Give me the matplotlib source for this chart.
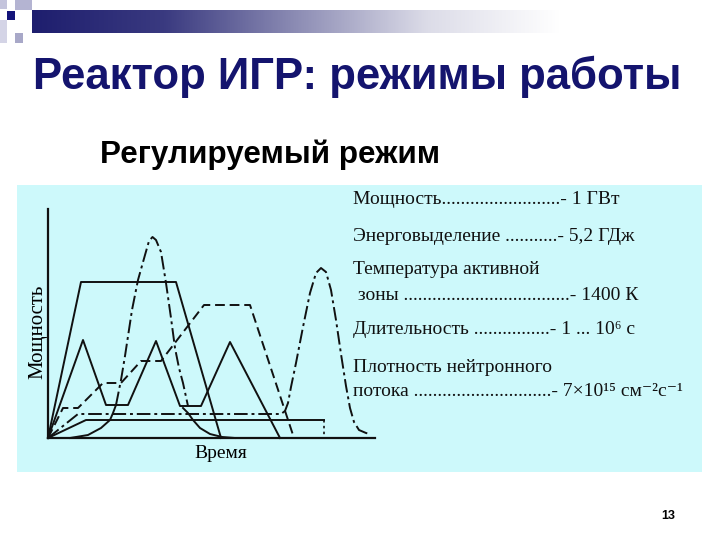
import matplotlib
matplotlib.use('Agg')
import matplotlib.pyplot as plt
import numpy as np
from matplotlib.patches import Rectangle

# --- data (time / power, arbitrary units) ---
# tall trapezoid, solid
trap_t = [0, 33, 128, 173]
trap_p = [0, 156, 156, 0]
# three triangles, solid
tri_t = [0, 35, 58, 80, 108, 132, 153, 182, 232]
tri_p = [0, 98, 33, 33, 97, 32, 32, 96, 0]
# stepped dashed curve
step_t = [0, 15, 30, 55, 73, 93, 113, 156, 202, 246]
step_p = [0, 30, 30, 55, 55, 77, 77, 133, 133, 0]
# low flat solid level
flat_t = [0, 38, 276]
flat_p = [0, 18, 18]
drop_t = [276, 276]
drop_p = [18, 0]
# dash-dot flat level ending in a pulse
late_t = [0, 30, 233, 237, 240, 243, 248, 255, 262, 268, 273, 278, 283,
          288, 293, 298, 302, 306, 311, 318, 322]
late_p = [0, 24, 24, 27, 35, 51, 75, 111, 145, 165, 170, 166, 148,
          118, 84, 52, 30, 16, 8, 5, 4]
# first pulse: solid rise, dash-dot peak, solid decay
rise_t = [22, 40, 53, 62, 65, 68]
rise_p = [0, 3, 10, 18, 25, 33]
peak_t = [68, 73, 77, 84, 90, 97, 101, 104.5, 108, 113, 118, 123, 127,
          131, 135, 140]
peak_p = [33, 58, 82, 128, 158, 183, 197, 201, 198, 186, 155, 120, 90,
          70, 55, 32]
decay_t = [135, 140, 145, 152, 162, 174, 187]
decay_p = [30, 25, 18, 10, 4, 1, 0]

# right-hand parameter list: (text, y pixel)
info_lines = [
    ('Мощность' + '.' * 25 + '- 1 ГВт', 200),
    ('Энерговыделение ' + '.' * 11 + '- 5,2 ГДж', 236),
    ('Температура активной', 270),
    (' зоны ' + '.' * 35 + '- 1400 К', 295),
    ('Длительность ' + '.' * 16 + '- 1 ... 10⁶ с', 330),
    ('Плотность нейтронного', 367),
    ('потока ' + '.' * 29 + '- 7×10¹⁵ см⁻²с⁻¹', 392),
]

W, H = 720, 540
fig = plt.figure(figsize=(7.2, 5.4), dpi=100)
fig.patch.set_facecolor('white')

# background / decoration layer in pixel coordinates
bg = fig.add_axes([0, 0, 1, 1])
bg.set_xlim(0, W)
bg.set_ylim(H, 0)
bg.axis('off')

grad = np.linspace(0, 1, 256)[None, :]
cmap = matplotlib.colors.LinearSegmentedColormap.from_list(
    'bar', ['#1e1e6e', '#3a3a80', '#8c8cb4', '#dcdce8', '#ffffff'])
bg.imshow(grad, cmap=cmap, extent=[32, 560, 33, 10], aspect='auto', zorder=1)
for (x0, y0, w, h, c) in [(0, 0, 7, 9, '#c4c4dc'), (15, 0, 17, 10, '#b4b4d2'),
                          (0, 20, 7, 23, '#d4d4e6'), (15, 33, 8, 10, '#a8a8c8'),
                          (7, 11, 8, 9, '#14147a')]:
    bg.add_patch(Rectangle((x0, y0), w, h, color=c, lw=0, zorder=2))

bg.add_patch(Rectangle((17, 185), 685, 287, color='#cdf9fb', lw=0, zorder=0))

fig.text(33 / W, 1 - 77 / H, 'Реактор ИГР: режимы работы', fontsize=31.5,
         fontweight='bold', color='#14146e', family='Liberation Sans',
         va='center', ha='left')
fig.text(100 / W, 1 - 155 / H, 'Регулируемый режим', fontsize=22.6,
         fontweight='bold', color='black', family='Liberation Sans',
         va='center', ha='left')
fig.text(668 / W, 1 - 516 / H, '13', fontsize=9, fontweight='bold',
         family='Liberation Sans', ha='center', va='center')

for txt, y in info_lines:
    fig.text(353 / W, 1 - y / H, txt, fontsize=14,
             family=['Liberation Serif', 'DejaVu Serif'],
             va='center', ha='left', color='#111111')

# --- chart ---
ax = fig.add_axes([48 / W, 1 - 438 / H, 327 / W, 229 / H])
ax.patch.set_alpha(0)
ax.set_xlim(0, 327)
ax.set_ylim(0, 229)
for s in ['top', 'right']:
    ax.spines[s].set_visible(False)
for s in ['left', 'bottom']:
    ax.spines[s].set_linewidth(1.6)
    ax.spines[s].set_color('#111111')
ax.set_xticks([])
ax.set_yticks([])

k = dict(color='#111111', lw=1.4, clip_on=False)
dashdot = (0, (7, 2, 1.5, 2))
ax.plot(trap_t, trap_p, '-', **k)
ax.plot(tri_t, tri_p, '-', **k)
ax.plot(step_t, step_p, linestyle=(0, (5, 2.5)), **k)
ax.plot(flat_t, flat_p, '-', **k)
ax.plot(drop_t, drop_p, linestyle=(0, (1.5, 2)), color='#111111', lw=1.2)
ax.plot(late_t, late_p, linestyle=dashdot, **k)
ax.plot(rise_t, rise_p, '-', **k)
ax.plot(peak_t, peak_p, linestyle=dashdot, **k)
ax.plot(decay_t, decay_p, '-', **k)

fig.text(221 / W, 1 - 453 / H, 'Время', fontsize=14,
         family='Liberation Serif', ha='center', va='center')
fig.text(38 / W, 1 - 332 / H, 'Мощность', fontsize=15, rotation=90,
         family='Liberation Serif', ha='center', va='center')

plt.savefig('out.png', dpi=100)
